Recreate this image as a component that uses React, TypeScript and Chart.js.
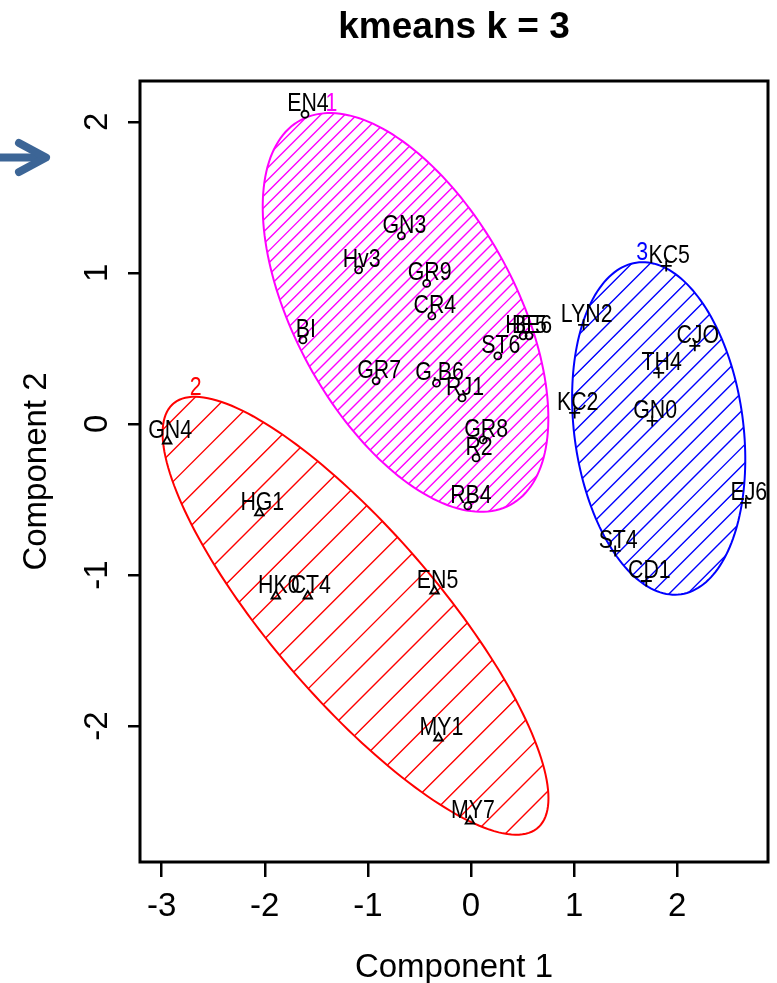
import React, { useEffect, useRef } from 'react';
import { Chart, registerables } from 'chart.js';

Chart.register(...registerables);

// ---------- text ----------
const chartTitle = 'kmeans k = 3';
const xAxisTitle = 'Component 1';
const yAxisTitle = 'Component 2';

// ---------- axes ----------
const xTickValues = [-3, -2, -1, 0, 1, 2];
const yTickValues = [-2, -1, 0, 1, 2];
const xLimits = [-3.21, 2.88];
const yLimits = [-2.9, 2.27];

// ---------- cluster 1 (magenta) ----------
const cluster1Names = ['EN4', 'GN3', 'Hv3', 'GR9', 'CR4', 'BI', 'HE5', 'BE6', 'ST6', 'GR7', 'G.B6', 'RJ1', 'GR8', 'R2', 'RB4'];
const cluster1X = [-1.61, -0.675, -1.09, -0.43, -0.38, -1.63, 0.505, 0.563, 0.26, -0.92, -0.335, -0.087, 0.117, 0.049, -0.03];
const cluster1Y = [2.05, 1.245, 1.02, 0.93, 0.715, 0.556, 0.583, 0.583, 0.45, 0.285, 0.27, 0.172, -0.106, -0.225, -0.543];

// ---------- cluster 2 (red) ----------
const cluster2Names = ['GN4', 'HG1', 'HK0', 'CT4', 'EN5', 'MY1', 'MY7'];
const cluster2X = [-2.947, -2.053, -1.893, -1.583, -0.354, -0.316, -0.01];
const cluster2Y = [-0.113, -0.589, -1.139, -1.139, -1.106, -2.079, -2.629];

// ---------- cluster 3 (blue) ----------
const cluster3Names = ['KC5', 'LYN2', 'CJO', 'TH4', 'KC2', 'GN0', 'EJ6', 'ST4', 'CD1'];
const cluster3X = [1.893, 1.092, 2.17, 1.82, 1.005, 1.757, 2.665, 1.398, 1.70];
const cluster3Y = [1.046, 0.656, 0.517, 0.338, 0.073, 0.02, -0.523, -0.841, -1.04];

// ---------- cluster ellipses (order: cluster 1, 2, 3) ----------
const clusterIds = ['1', '2', '3'];
const ellipseCenterX = [-0.635, -1.12, 1.82];
const ellipseCenterY = [0.738, -1.27, -0.03];
const ellipseSemiMajor = [1.674, 2.273, 1.124];
const ellipseSemiMinor = [0.926, 0.66, 0.808];
const ellipseAngleDeg = [-42.4, -36.4, -73];

// ---------- styles ----------
const CLUSTER_COLORS = ['#ff00ff', '#ff0000', '#0000ff'];
const HATCH_SPACING = [8.5, 22, 13];
const POINT_STYLES = ['circle', 'triangle', 'cross'];
const POINT_RADII = [3.5, 5, 5.5];
const SANS = '"Liberation Sans", Arial, Helvetica, sans-serif';
const LABEL_FONT = '26px "Liberation Sans", Arial, sans-serif';
const LABEL_SQUEEZE = 0.82;

const clusters = [
  { names: cluster1Names, xs: cluster1X, ys: cluster1Y },
  { names: cluster2Names, xs: cluster2X, ys: cluster2Y },
  { names: cluster3Names, xs: cluster3X, ys: cluster3Y },
];

function ellipsePixels(k: number, xs: any, ys: any) {
  const pts: { x: number; y: number }[] = [];
  const th = (ellipseAngleDeg[k] * Math.PI) / 180;
  const a = ellipseSemiMajor[k];
  const b = ellipseSemiMinor[k];
  const n = 180;
  for (let i = 0; i < n; i++) {
    const t = (i / n) * Math.PI * 2;
    const dx = a * Math.cos(th) * Math.cos(t) - b * Math.sin(th) * Math.sin(t);
    const dy = a * Math.sin(th) * Math.cos(t) + b * Math.cos(th) * Math.sin(t);
    pts.push({
      x: xs.getPixelForValue(ellipseCenterX[k] + dx),
      y: ys.getPixelForValue(ellipseCenterY[k] + dy),
    });
  }
  return pts;
}

function tracePath(ctx: CanvasRenderingContext2D, pts: { x: number; y: number }[]) {
  ctx.beginPath();
  pts.forEach((p, i) => (i === 0 ? ctx.moveTo(p.x, p.y) : ctx.lineTo(p.x, p.y)));
  ctx.closePath();
}

function squeezedText(ctx: CanvasRenderingContext2D, text: string, x: number, y: number) {
  ctx.save();
  ctx.translate(x, y);
  ctx.scale(LABEL_SQUEEZE, 1);
  ctx.fillText(text, 0, 0);
  ctx.restore();
}

const decorPlugin = {
  id: 'decor',
  beforeDatasetsDraw(chart: any) {
    const { ctx, chartArea } = chart;
    const xs = chart.scales.x;
    const ys = chart.scales.y;
    ctx.save();
    ctx.beginPath();
    ctx.rect(chartArea.left, chartArea.top, chartArea.width, chartArea.height);
    ctx.clip();
    for (let k = 0; k < 3; k++) {
      const pts = ellipsePixels(k, xs, ys);
      // hatching
      ctx.save();
      tracePath(ctx, pts);
      ctx.clip();
      let minC = Infinity, maxC = -Infinity, minY = Infinity, maxY = -Infinity;
      pts.forEach((p) => {
        minC = Math.min(minC, p.x + p.y);
        maxC = Math.max(maxC, p.x + p.y);
        minY = Math.min(minY, p.y);
        maxY = Math.max(maxY, p.y);
      });
      const step = HATCH_SPACING[k] * Math.SQRT2;
      ctx.strokeStyle = CLUSTER_COLORS[k];
      ctx.lineWidth = 1.4;
      ctx.beginPath();
      for (let c = minC + step / 2; c < maxC; c += step) {
        const y0 = minY - 5;
        const y1 = maxY + 5;
        ctx.moveTo(c - y0, y0);
        ctx.lineTo(c - y1, y1);
      }
      ctx.stroke();
      ctx.restore();
      // outline
      tracePath(ctx, pts);
      ctx.strokeStyle = CLUSTER_COLORS[k];
      ctx.lineWidth = 2;
      ctx.stroke();
    }
    ctx.restore();
  },
  afterDatasetsDraw(chart: any) {
    const { ctx, chartArea } = chart;
    const xs = chart.scales.x;
    const ys = chart.scales.y;
    ctx.save();
    // point labels
    ctx.font = LABEL_FONT;
    ctx.fillStyle = '#000';
    ctx.textAlign = 'center';
    ctx.textBaseline = 'alphabetic';
    clusters.forEach((c) => {
      c.names.forEach((name, i) => {
        const px = xs.getPixelForValue(c.xs[i]);
        const py = ys.getPixelForValue(c.ys[i]);
        squeezedText(ctx, name, px + 3, py - 3);
      });
    });
    // cluster numbers at top of each ellipse
    for (let k = 0; k < 3; k++) {
      const pts = ellipsePixels(k, xs, ys);
      let top = pts[0];
      pts.forEach((p) => { if (p.y < top.y) top = p; });
      ctx.fillStyle = CLUSTER_COLORS[k];
      squeezedText(ctx, clusterIds[k], top.x, top.y - 2);
    }
    // frame
    ctx.strokeStyle = '#000';
    ctx.lineWidth = 3;
    ctx.strokeRect(chartArea.left, chartArea.top, chartArea.width, chartArea.height);
    ctx.restore();
  },
  afterDraw(chart: any) {
    const { ctx, chartArea } = chart;
    const ys = chart.scales.y;
    const cx = (chartArea.left + chartArea.right) / 2;
    const cy = (chartArea.top + chartArea.bottom) / 2;
    ctx.save();
    ctx.fillStyle = '#000';
    // title
    ctx.font = `bold 37px ${SANS}`;
    ctx.textAlign = 'center';
    ctx.textBaseline = 'alphabetic';
    ctx.fillText(chartTitle, cx, 38);
    // x axis title
    ctx.font = `33px ${SANS}`;
    ctx.fillText(xAxisTitle, cx, 977);
    // y tick labels (rotated)
    yTickValues.forEach((v) => {
      const py = ys.getPixelForValue(v);
      ctx.save();
      ctx.translate(107, py);
      ctx.rotate(-Math.PI / 2);
      ctx.fillText(String(v), 0, 0);
      ctx.restore();
    });
    // y axis title
    ctx.save();
    ctx.translate(46, cy);
    ctx.rotate(-Math.PI / 2);
    ctx.fillText(yAxisTitle, 0, 0);
    ctx.restore();
    // arrow
    ctx.strokeStyle = '#3c6596';
    ctx.lineWidth = 8;
    ctx.lineCap = 'round';
    ctx.lineJoin = 'round';
    ctx.beginPath();
    ctx.moveTo(-6, 157.5);
    ctx.lineTo(44, 157.5);
    ctx.stroke();
    ctx.beginPath();
    ctx.moveTo(19, 143);
    ctx.lineTo(46, 157.5);
    ctx.lineTo(19, 172);
    ctx.stroke();
    ctx.restore();
  },
};

export default function App() {
  const canvasRef = useRef<HTMLCanvasElement | null>(null);

  useEffect(() => {
    document.body.style.margin = '0';
    const canvas = canvasRef.current;
    if (!canvas) return;
    const datasets = clusters.map((c, k) => ({
      label: `Cluster ${clusterIds[k]}`,
      data: c.xs.map((x, i) => ({ x, y: c.ys[i] })),
      pointStyle: POINT_STYLES[k],
      pointRadius: POINT_RADII[k],
      pointHoverRadius: POINT_RADII[k],
      borderColor: '#000',
      backgroundColor: 'rgba(0,0,0,0)',
      pointBorderWidth: 1.8,
      showLine: false,
    }));
    const chart = new Chart(canvas, {
      type: 'scatter',
      data: { datasets },
      plugins: [decorPlugin],
      options: {
        animation: false,
        responsive: true,
        maintainAspectRatio: false,
        layout: { padding: { left: 0, right: 9, top: 81, bottom: 0 } },
        plugins: {
          legend: { display: false },
          title: { display: false },
          tooltip: { enabled: false },
        },
        scales: {
          x: {
            type: 'linear',
            min: xLimits[0],
            max: xLimits[1],
            afterBuildTicks: (s: any) => { s.ticks = xTickValues.map((v) => ({ value: v })); },
            afterFit: (s: any) => { s.height = 121; },
            border: { display: false },
            grid: { display: true, drawOnChartArea: false, drawTicks: true, tickLength: 15, color: '#000', lineWidth: 2.5 },
            ticks: {
              color: '#000',
              font: { size: 33, family: SANS },
              padding: 10,
              maxRotation: 0,
              autoSkip: false,
              callback: (v: any) => String(v),
            },
          },
          y: {
            type: 'linear',
            min: yLimits[0],
            max: yLimits[1],
            afterBuildTicks: (s: any) => { s.ticks = yTickValues.map((v) => ({ value: v })); },
            afterFit: (s: any) => { s.width = 140; },
            border: { display: false },
            grid: { display: true, drawOnChartArea: false, drawTicks: true, tickLength: 12, color: '#000', lineWidth: 2.5 },
            ticks: { display: false },
          },
        },
      } as any,
    });
    return () => chart.destroy();
  }, []);

  return (
    <div style={{ position: 'absolute', left: 0, top: 0, width: 777, height: 983, background: '#fff' }}>
      <canvas ref={canvasRef} />
    </div>
  );
}
